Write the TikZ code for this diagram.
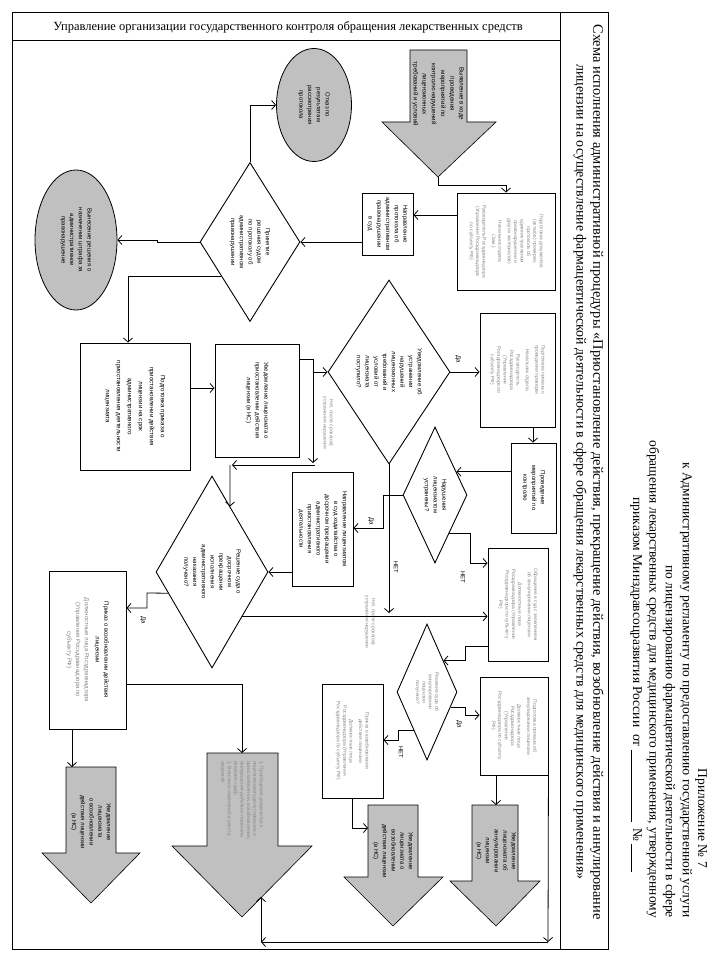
\documentclass[tikz,border=0pt]{standalone}
\usepackage{fontspec}
\setmainfont{Liberation Serif}
\newfontfamily\bxf{Liberation Sans}
\usetikzlibrary{arrows.meta,shapes.geometric,calc}
\definecolor{gfill}{RGB}{192,192,192}
\definecolor{gtext}{RGB}{135,135,135}
\newcommand{\rt}[2]{\rotatebox{-90}{\parbox{#1}{\centering #2}}}
\newcommand{\rtl}[2]{\rotatebox{-90}{\parbox{#1}{\raggedright #2}}}
\begin{document}
\begin{tikzpicture}[x=1pt,y=-1pt,
 box/.style={draw, line width=0.9pt, rectangle, inner sep=0pt},
 dia/.style={draw, line width=0.9pt, diamond, inner sep=0pt},
 ell/.style={draw, line width=0.8pt, ellipse, fill=gfill, inner sep=0pt},
 txt/.style={inner sep=0pt, font=\bxf\fontsize{6}{8.7}\selectfont},
 gtxt/.style={inner sep=0pt, text=gtext, font=\bxf\fontsize{4.9}{6.4}\selectfont},
 lbl/.style={inner sep=0pt, font=\bxf\fontsize{6}{7}\selectfont},
 arr/.style={line width=0.8pt, -{Straight Barb[length=4pt,width=9pt]}},
 ln/.style={line width=0.8pt},
 garrow/.style={fill=gfill, draw=black, line width=0.6pt}]
\useasboundingbox (0,0) rectangle (720,960);
\fill[white] (0,0) rectangle (720,960);

% frame
\draw[line width=0.9pt] (12,12) rectangle (608,949);
\draw[line width=0.9pt] (560,12) -- (560,949);
\draw[line width=0.9pt] (12,40) -- (560,40);

\node[inner sep=0pt, font=\fontsize{12.5}{14}\selectfont] (hdr) at (288,27) {Управление организации государственного контроля обращения лекарственных средств};
\node[inner sep=0pt] (t1) at (597,472) {\rotatebox{-90}{\resizebox{895pt}{!}{\fontsize{14}{16}\selectfont Схема исполнения административной процедуры «Приостановление действия, прекращение действия, возобновление действия и аннулирование}}};
\node[inner sep=0pt] (t2) at (580,472) {\rotatebox{-90}{\resizebox{815pt}{!}{\fontsize{14}{16}\selectfont лицензии на осуществление фармацевтической деятельности в сфере обращения лекарственных средств для медицинского применения»}}};

% appendix
\begin{scope}[every node/.style={inner sep=0pt, anchor=south, font=\fontsize{13.5}{15}\selectfont}]
\node (ap1) at (701,868) {\rotatebox{-90}{Приложение № 7}};
\node (ap2) at (686,918) {\rotatebox{-90}{к Административному регламенту по предоставлению государственной услуги}};
\node (ap3) at (669,918) {\rotatebox{-90}{по лицензированию фармацевтической деятельности в сфере}};
\node (ap4) at (653,918) {\rotatebox{-90}{обращения лекарственных средств для медицинского применения, утвержденному}};
\node (ap5) at (636,872) {\rotatebox{-90}{приказом Минздравсоцразвития России\ \ от \underline{\hspace{72pt}}\ \ №\,\underline{\hspace{28pt}}}};
\end{scope}

% gray arrows
\filldraw[garrow] (410,50) -- (467,50) -- (467,122) -- (496,122) -- (438,177) -- (382,122) -- (410,122) -- cycle;
\coordinate (Ttip) at (438,177);
\node[txt, font=\bxf\fontsize{6.2}{9.2}\selectfont] (Tt) at (438,94) {\rt{82pt}{Выявление в ходе\\проведения\\мероприятий по\\контролю нарушений\\лицензионных\\требований и условий}};

\filldraw[garrow] (207,753) -- (278,753) -- (278,846) -- (312,846) -- (242,917) -- (172,846) -- (207,846) -- cycle;
\coordinate (Mtop) at (242,753);
\node[gtxt] (Mt) at (242,815) {\rtl{108pt}{1. Приобщение документов к\\лицензионному делу (приказов о\\приостановлении, возобновлении,\\прекращении действия лицензии,\\решения суда);\\2. Внесение изменений в реестр\\лицензий}};

\filldraw[garrow] (66,767) -- (116,767) -- (116,853) -- (140,853) -- (91,903) -- (42,853) -- (66,853) -- cycle;
\coordinate (Ntop) at (72,767);
\node[txt] (Nt) at (91,822) {\rt{80pt}{Уведомление\\лицензиата\\о возобновлении\\действия лицензии\\(в НС)}};

\filldraw[garrow] (368,805) -- (418,805) -- (418,877) -- (443,877) -- (393,926) -- (344,877) -- (368,877) -- cycle;
\coordinate (Stop) at (368,828);
\node[txt] (St) at (393,851) {\rt{72pt}{Уведомление\\лицензиата о\\возобновлении\\действия лицензии\\(в НС)}};

\filldraw[garrow] (472,805) -- (518,805) -- (518,881) -- (540,881) -- (496,926) -- (450,881) -- (472,881) -- cycle;
\coordinate (Rtop) at (496,805);
\node[txt] (Rt) at (496,851) {\rt{72pt}{Уведомление\\лицензиата об\\аннулировании\\лицензии\\(в НС)}};

% ellipses
\node[ell, minimum width=75, minimum height=113] (EL1) at (314,105) {};
\node[txt] at (EL1) {\rt{60pt}{Отказ по\\результатам\\рассмотрения\\протокола}};
\node[ell, minimum width=82, minimum height=140] (EL2) at (76,240) {};
\node[txt] at (EL2) {\rt{80pt}{Вынесение решения о\\назначении штрафа за\\административное\\правонарушение}};

% boxes
\node[box, minimum width=98, minimum height=97] (A) at (506,241.5) {};
\node[gtxt] at (A) {\rt{88pt}{Подготовка документов\\(акта(ов) проверки,\\протокола об\\административном\\правонарушении и\\других материалов)\\[3pt]Начальник отдела\\(Зам.)\\[3pt]Руководитель Росздравнадзора\\(Управления Росздравнадзора\\по субъекту РФ)}};
\node[box, minimum width=51, minimum height=62] (B) at (387.5,224) {};
\node[txt] at (B) {\rt{58pt}{Направление\\протокола об\\административном\\правонарушении\\в суд}};
\node[box, minimum width=84, minimum height=113] (C) at (257,400.5) {};
\node[txt] at (C) {\rt{100pt}{Уведомление лицензиата о\\приостановлении действия\\лицензии (в НС)}};
\node[box, minimum width=110, minimum height=127] (D) at (135,406.5) {};
\node[txt, font=\bxf\fontsize{6.2}{11}\selectfont] at (D) {\rt{115pt}{Подготовка приказа о\\приостановлении действия\\лицензии на срок\\административного\\приостановления деятельности\\лицензиата}};
\node[box, minimum width=75, minimum height=114] (F) at (517.5,370) {};
\node[gtxt] at (F) {\rt{100pt}{Подготовка приказа о\\проведении проверки\\[3pt]Начальник отдела\\[3pt]Руководитель\\Росздравнадзора\\(Управления\\Росздравнадзора по\\субъекту РФ)}};
\node[box, minimum width=45, minimum height=90] (G) at (533.5,488) {};
\node[txt] at (G) {\rt{80pt}{Проведение\\мероприятий по\\контролю}};
\node[box, minimum width=61, minimum height=114] (I) at (322.5,529) {};
\node[txt] at (I) {\rt{104pt}{Направление лицензиатом\\в суд ходатайства о\\досрочном прекращении\\административного\\приостановления\\деятельности}};
\node[box, minimum width=60, minimum height=113] (J) at (518,604.5) {};
\node[gtxt] at (J) {\rt{104pt}{Обращение в суд с заявлением\\об аннулировании лицензии\\[3pt]Должностные лица\\Росздравнадзора (Управления\\Росздравнадзора по субъекту\\РФ)}};
\node[box, minimum width=77, minimum height=158] (L) at (87.5,650) {};
\node[txt] at (L) {\rt{140pt}{Приказ о возобновлении действия\\лицензии\\[2pt]{\color{gtext}Должностные лица Росздравнадзора\\(Управления Росздравнадзора по\\субъекту РФ)}}};
\node[box, minimum width=68, minimum height=98] (P) at (514,726) {};
\node[gtxt] at (P) {\rt{90pt}{Подготовка приказа об\\аннулировании лицензии\\[3pt]Должностные лица\\Росздравнадзора\\(Управления\\Росздравнадзора по субъекту\\РФ)}};
\node[box, minimum width=61, minimum height=114] (Q) at (352.5,741) {};
\node[gtxt] at (Q) {\rt{104pt}{Приказ о возобновлении\\действия лицензии\\[3pt]Должностные лица\\Росздравнадзора (Управления\\Росздравнадзора по субъекту РФ)}};

% diamonds
\node[dia, minimum width=100, minimum height=159] (Dj) at (250,242) {};
\node[txt] at (Dj) {\rt{70pt}{Принятие\\решения судом\\по протоколу об\\административном\\правонарушении}};
\node[dia, minimum width=122, minimum height=184] (E) at (389,372) {};
\node[txt] at (E) {\rt{80pt}{Уведомление об\\устранении\\нарушений\\лицензионных\\требований и\\условий от\\лицензиата\\поступило?}};
\node[dia, minimum width=64, minimum height=136] (H) at (435,495) {};
\node[txt] at (H) {\rt{70pt}{Нарушения\\лицензиатом\\устранены?}};
\node[dia, minimum width=112, minimum height=192] (K) at (212,572) {};
\node[txt] at (K) {\rt{90pt}{Решение суда о\\досрочном\\прекращении\\исполнения\\административного\\наказания\\получено?}};
\node[dia, minimum width=60, minimum height=136] (O) at (427,692) {};
\node[gtxt] at (O) {\rt{70pt}{Решение суда об\\аннулировании\\лицензии\\получено?}};

% gray notes
\node[gtxt] (n1) at (328,423) {\rt{62pt}{Нет, после срока(ов)\\устранения нарушения}};
\node[gtxt] (n2) at (370,622) {\rt{62pt}{Нет, после срока(ов)\\устранения нарушения}};

% connectors
\draw[arr] (Ttip) -- ($(Ttip)+(0,8)$) -| (A.north);
\draw[arr] (A.west |- 0,215) -- (B.east |- 0,215);
\draw[arr] (B.west |- Dj.east) -- (Dj.east);
\draw[arr] (Dj.north) |- (EL1.west);
\draw[arr] (Dj.west) -- ++(-42,0) -- ++(0,-2) -- (EL2.east);
\coordinate (dj1) at ($(Dj.west)!0.425!(Dj.south)$);
\draw[arr] (dj1) -| ($(D.north)+(-7,0)$);
\draw[arr] (D.east |- 0,388) -- (C.west |- 0,388);
\draw[arr] (C.east |- 0,359) -- (313,359) |- (E.west);
\draw[arr] (313,359) -- (313,463);
\draw[arr] (315,465) -- (232,465);
\coordinate (k1) at ($(K.north)!0.32!(K.east)$);
\draw[arr] (230,465) -- (k1);
\draw[arr] (E.east) -- (F.west |- E.east);
\node[lbl] (l1) at (458,359) {\rotatebox{-90}{Да}};
\draw[arr] (F.south -| 533,0) -- (G.north -| 533,0);
\coordinate (h1) at ($(H.north)!0.66!(H.east)$);
\draw[arr] (G.west |- h1) -- (h1);
\draw[arr] (H.west) -- (383,495) -- (383,528) -- (I.east |- 0,528);
\node[lbl] (l2) at (371,521) {\rotatebox{-90}{Да}};
\coordinate (h2) at ($(H.east)!0.56!(H.south)$);
\draw[arr] (h2) -| (470,563) -- (J.west |- 0,563);
\node[lbl] (l3) at (463,577) {\rotatebox{-90}{НЕТ}};
\draw[arr] (E.south) -- (E.south |- 0,613);
\node[lbl] (l4) at (396,567) {\rotatebox{-90}{НЕТ}};
\coordinate (k2) at ($(K.east)!0.46!(K.south)$);
\draw[arr] (k2) -- (J.west |- k2);
\draw[arr] (I.west |- K.east) -- (K.east);
\coordinate (k3) at ($(K.west)!0.22!(K.south)$);
\draw[arr] (k3) -- (147,593) -- (147,608) -- (L.east |- 0,608);
\node[lbl] (l5) at (143,620) {\rotatebox{-90}{Да}};
\draw[arr] (L.east |- 0,684) -| (Mtop);
\draw[arr] (L.south -| Ntop) -- (Ntop);
\coordinate (o1) at ($(O.north)!0.54!(O.east)$);
\draw[arr] (J.west |- 0,646) -- (465,646) |- (o1);
\coordinate (o2) at ($(O.east)!0.22!(O.south)$);
\draw[arr] (o2) -| (465,715) -- (P.west |- 0,715);
\node[lbl] (l6) at (459,724) {\rotatebox{-90}{Да}};
\coordinate (o3) at ($(O.west)!0.56!(O.south)$);
\draw[arr] (o3) -| (398,740) -- (Q.east |- 0,740);
\node[lbl] (l7) at (401,752) {\rotatebox{-90}{НЕТ}};
\draw[arr] (P.south -| Rtop) -- (Rtop);
\coordinate (c1) at (548,942);
\coordinate (c2) at (261,942);
\coordinate (Mhd) at (261,897);
\draw[arr] (P.south east) -- (c1);
\draw[arr] (c1) -- (c2);
\draw[arr] (c2) -- (Mhd);
\draw[arr] (Q.south) |- (Stop);
\end{tikzpicture}
\end{document}
